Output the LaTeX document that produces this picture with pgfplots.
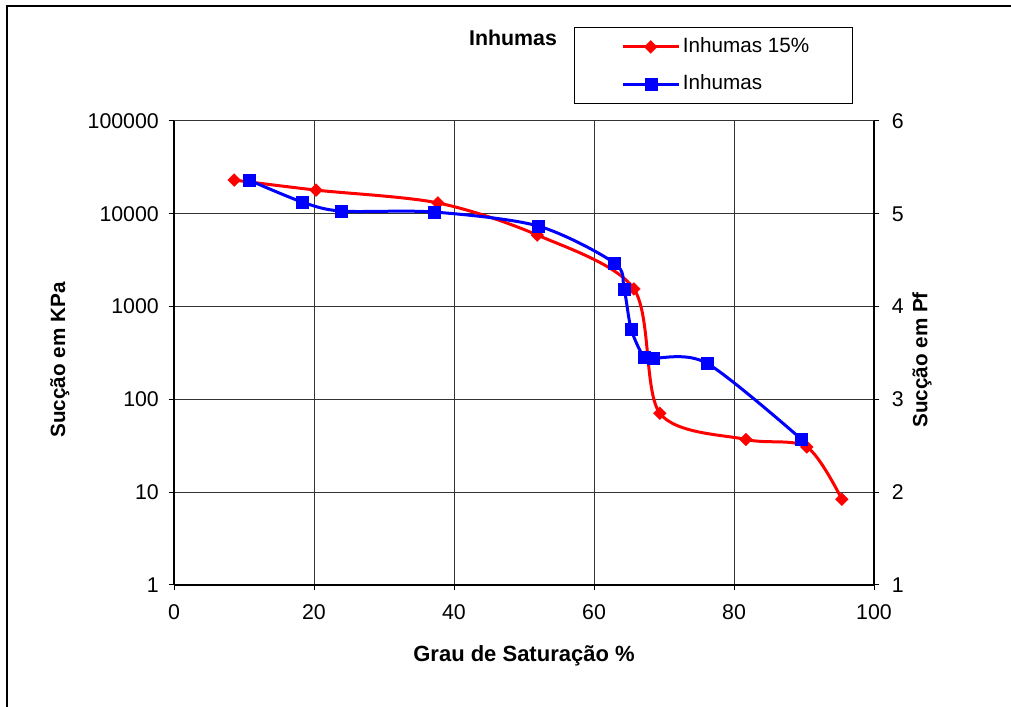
\documentclass[border=0pt]{standalone}
\usepackage{fontspec}
\setmainfont{Liberation Sans}
\usepackage{pgfplots}
\pgfplotsset{compat=1.18}
\definecolor{exred}{RGB}{255,0,0}
\definecolor{exblue}{RGB}{0,0,255}
\begin{document}
\fontsize{15.5}{18}\selectfont
\begin{tikzpicture}
\useasboundingbox (0,0) rectangle (758.25pt,530.25pt);
\draw[line width=1.5pt] (5.25pt,0) -- (5.25pt,525.75pt) -- (758.25pt,525.75pt);
\begin{axis}[
  at={(130.5pt,91.5pt)}, anchor=south west,
  scale only axis, width=525pt, height=348pt,
  xmin=0, xmax=100, ymode=log, ymin=1, ymax=100000,
  axis x line*=bottom, axis y line*=left,
  xtick={0,20,40,60,80,100},
  ytick={1,10,100,1000,10000,100000},
  yticklabels={1,10,100,1000,10000,100000},
  yminorticks=false,
  /pgf/number format/assume math mode=true,
  ticklabel style={font=\fontsize{16}{18}\selectfont},
  xticklabel style={yshift=-5.5pt},
  yticklabel style={xshift=-2pt},
  grid=major, major grid style={black!80, line width=0.75pt},
  axis line style={line width=1pt, black},
  tick style={black, line width=0.75pt}, major tick length=4pt, tick align=outside,
  xlabel={\bfseries Grau de Saturação \%},
  xlabel style={at={(axis description cs:0.5,-0.153)}, anchor=center, font=\fontsize{16.5}{18}\selectfont},
  ylabel={\bfseries Sucção em KPa},
  ylabel style={at={(axis description cs:-0.163,0.485)}, anchor=center, rotate=0, font=\fontsize{15.5}{18}\selectfont},
  legend style={at={(axis description cs:0.5714,1.2026)}, anchor=north west, draw=black, fill=white,
    inner xsep=30pt, inner ysep=6pt, row sep=10.25pt, font=\fontsize{15.5}{18}\selectfont},
  legend cell align=left,
  legend image code/.code={\path (0pt,0pt); \draw[mark repeat=2,mark phase=2] plot coordinates {(5.25pt,0pt)(26.25pt,0pt)(47.25pt,0pt)};},
  clip=false,
]
\addplot[exred, line width=2.25pt, smooth, mark=square*, mark size=3.45pt,
  mark options={solid, rotate=45, fill=exred, draw=exred, line width=0.1pt}]
  coordinates {(8.6,23100)(20.3,18000)(37.7,13100)(51.9,5900)(65.7,1550)(69.4,71)(81.7,37)(90.4,30.7)(95.4,8.4)};
\addlegendentry{Inhumas 15\%}
\addplot[exblue, line width=2.25pt, smooth, mark=square*, mark size=4.5pt,
  mark options={solid, fill=exblue, draw=exblue, line width=0.1pt}]
  coordinates {(10.7,23100)(18.3,13400)(23.9,10700)(37.1,10450)(52.0,7390)(62.9,2950)(64.3,1550)(65.3,575)(67.1,287)(68.4,279)(76.1,246)(89.6,37.4)};
\addlegendentry{Inhumas}
\node[font=\bfseries\fontsize{16}{18}\selectfont] at (axis description cs:0.4843,1.1789) {Inhumas};
\end{axis}
\begin{axis}[
  at={(130.5pt,91.5pt)}, anchor=south west,
  scale only axis, width=525pt, height=348pt,
  xmin=0, xmax=100, ymin=1, ymax=6,
  axis x line=none, axis y line*=right,
  ytick={1,2,3,4,5,6},
  /pgf/number format/assume math mode=true,
  ticklabel style={font=\fontsize{16}{18}\selectfont},
  yticklabel style={xshift=4pt},
  axis line style={line width=1pt, black},
  tick style={black, line width=0.75pt}, major tick length=4pt, tick align=outside,
  ylabel={\bfseries Sucção em Pf},
  ylabel style={at={(axis description cs:1.0686,0.485)}, anchor=center, rotate=0, font=\fontsize{15.5}{18}\selectfont},
]
\addplot[draw=none] coordinates {(0,1)};
\end{axis}
\end{tikzpicture}
\end{document}
